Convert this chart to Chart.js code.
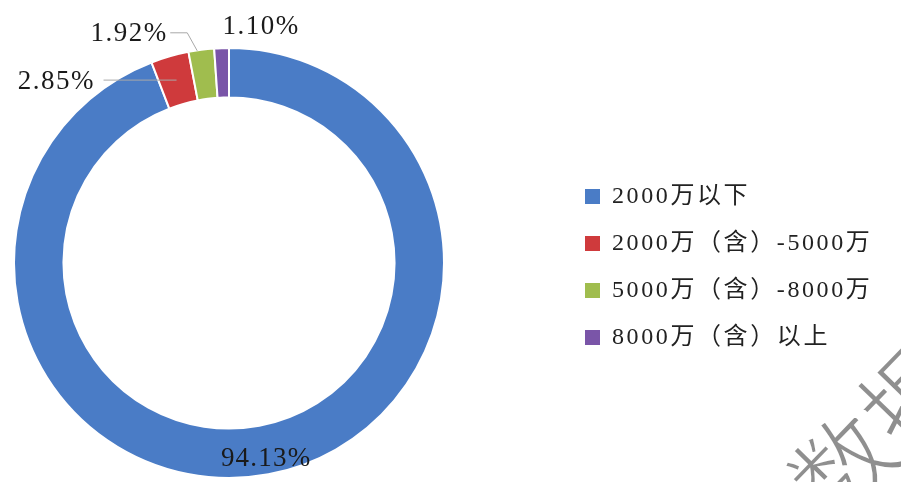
<!DOCTYPE html>
<html>
<head>
<meta charset="utf-8">
<script src="https://cdn.jsdelivr.net/npm/chart.js@4/dist/chart.umd.min.js"></script>
<style>
  html, body { margin: 0; padding: 0; background: #fff; }
  #wrap { width: 901px; height: 482px; }
</style>
</head>
<body>
<div id="wrap"><canvas id="chart" width="901" height="482"></canvas></div>
<script>
const categories = ['2000万以下', '2000万（含）-5000万', '5000万（含）-8000万', '8000万（含）以上']
const shares = [94.13, 2.85, 1.92, 1.10]
const shareLabels = ['94.13%', '2.85%', '1.92%', '1.10%']
const colors = ['#4a7cc6', '#cf3a3c', '#a0bd4e', '#7a55a8']
// how each value label sits: inside ring, leader to the left, elbow leader, plain outside
const labelPlacement = ['inside', 'leaderLeft', 'leaderElbow', 'outside']

const serif = '"Liberation Serif", "Noto Sans CJK SC", serif'

// canvas letterSpacing isn't available everywhere, so space the glyphs by hand
const spacedWidth = (ctx, text, gap) =>
  Array.from(text).reduce((w, ch) => w + ctx.measureText(ch).width + gap, -gap)

const fillSpaced = (ctx, text, x, y, gap, align) => {
  const w = spacedWidth(ctx, text, gap)
  let cx = align === 'right' ? x - w : align === 'center' ? x - w / 2 : x
  ctx.save()
  ctx.textAlign = 'left'
  for (const ch of text) {
    ctx.fillText(ch, cx, y)
    cx += ctx.measureText(ch).width + gap
  }
  ctx.restore()
}

const valueLabels = {
  id: 'valueLabels',
  afterDatasetsDraw(chart) {
    const ctx = chart.ctx
    const arcs = chart.getDatasetMeta(0).data
    ctx.save()
    ctx.font = '27px ' + serif
    ctx.fillStyle = '#1a1a1a'
    ctx.strokeStyle = '#a8a8a8'
    ctx.lineWidth = 1
    ctx.textBaseline = 'middle'
    arcs.forEach((arc, i) => {
      const { x, y, startAngle, endAngle, innerRadius, outerRadius } = arc.getProps(
        ['x', 'y', 'startAngle', 'endAngle', 'innerRadius', 'outerRadius'], true)
      const mid = (startAngle + endAngle) / 2
      const at = (r) => ({ x: x + Math.cos(mid) * r, y: y + Math.sin(mid) * r })
      const text = shareLabels[i]
      const kind = labelPlacement[i]
      if (kind === 'inside') {
        const p = at((innerRadius + outerRadius) / 2 + 9)
        fillSpaced(ctx, text, p.x, p.y, 1.2, 'center')
      } else if (kind === 'leaderLeft') {
        const p = at((innerRadius + outerRadius) / 2)
        ctx.beginPath()
        ctx.moveTo(p.x, p.y)
        ctx.lineTo(p.x - 73, p.y)
        ctx.stroke()
        fillSpaced(ctx, text, p.x - 83, p.y + 2, 1.5, 'right')
      } else if (kind === 'leaderElbow') {
        const p = at(outerRadius)
        ctx.beginPath()
        ctx.moveTo(p.x - 4, p.y + 1)
        ctx.lineTo(p.x - 14, p.y - 17)
        ctx.lineTo(p.x - 31, p.y - 17)
        ctx.stroke()
        fillSpaced(ctx, text, p.x - 35, p.y - 16, 1.5, 'right')
      } else {
        const p = at(outerRadius)
        fillSpaced(ctx, text, p.x + 1, p.y - 21, 1.5, 'left')
      }
    })
    ctx.restore()
  },
}

const sideLegend = {
  id: 'sideLegend',
  afterDraw(chart) {
    const ctx = chart.ctx
    const left = 585
    const top = 196
    const rowGap = 47
    ctx.save()
    ctx.font = '24px ' + serif
    ctx.textBaseline = 'middle'
    chart.data.labels.forEach((lab, i) => {
      const cy = top + i * rowGap
      ctx.fillStyle = chart.data.datasets[0].backgroundColor[i]
      ctx.fillRect(left, cy - 7, 15, 15)
      ctx.fillStyle = '#222222'
      fillSpaced(ctx, lab, left + 27, cy + 1, 2.6, 'left')
    })
    ctx.restore()
  },
}

const watermark = {
  id: 'watermark',
  afterDraw(chart) {
    const ctx = chart.ctx
    ctx.save()
    ctx.translate(878, 430)
    ctx.rotate(-0.8)
    ctx.font = '100px "Noto Sans CJK SC", sans-serif'
    ctx.fillStyle = '#8f8f8f'
    ctx.strokeStyle = '#ffffff'
    ctx.lineWidth = 2.5
    ctx.textAlign = 'center'
    ctx.textBaseline = 'middle'
    ctx.fillText('数据', 0, 0)
    ctx.strokeText('数据', 0, 0)
    ctx.restore()
  },
}

new Chart(document.getElementById('chart'), {
  type: 'doughnut',
  data: {
    labels: categories,
    datasets: [
      {
        data: shares,
        backgroundColor: colors,
        borderColor: '#ffffff',
        borderWidth: 2,
      },
    ],
  },
  options: {
    responsive: false,
    animation: false,
    devicePixelRatio: 1,
    cutout: '77%',
    layout: { padding: { left: 13, right: 456, top: 47, bottom: 3 } },
    plugins: {
      legend: { display: false },
      tooltip: { enabled: false },
    },
  },
  plugins: [valueLabels, sideLegend, watermark],
})
</script>
</body>
</html>
